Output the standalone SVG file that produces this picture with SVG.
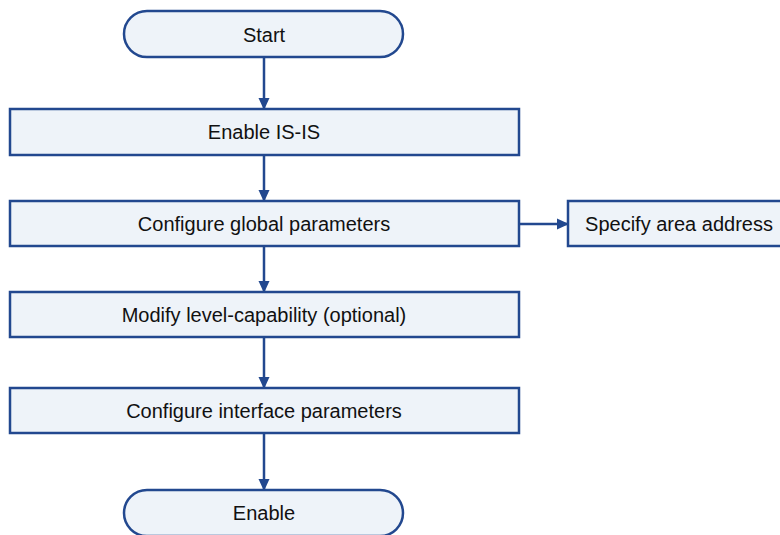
<svg xmlns="http://www.w3.org/2000/svg" width="780" height="535" viewBox="0 0 780 535">
<style>
.box{fill:#EEF3F9;stroke:#22488F;stroke-width:2.5}
.t{font-family:"Liberation Sans",Arial,sans-serif;font-size:20px;fill:#111;text-anchor:middle;dominant-baseline:central}
.c{stroke:#22488F;stroke-width:2.5;fill:none;marker-end:url(#ah)}
</style>
<defs>
<marker id="ah" markerWidth="12" markerHeight="12" refX="10" refY="6" orient="auto" markerUnits="userSpaceOnUse" viewBox="0 0 12 12">
<path d="M0,0.5 L12,6 L0,11.5 Z" fill="#22488F"/>
</marker>
</defs>
<rect width="780" height="535" fill="#fff"/>
<g id="connectors">
<line class="c" x1="264" y1="58" x2="264" y2="108"/>
<line class="c" x1="264" y1="156" x2="264" y2="200"/>
<line class="c" x1="264" y1="247" x2="264" y2="291"/>
<line class="c" x1="264" y1="338" x2="264" y2="387"/>
<line class="c" x1="264" y1="434" x2="264" y2="489"/>
<line class="c" x1="520" y1="224" x2="567" y2="224"/>
</g>
<g id="start"><rect class="box" x="124" y="11" width="279" height="46" rx="23"/><text class="t" x="264" y="35">Start</text></g>
<g id="enable-isis"><rect class="box" x="10" y="109" width="509" height="46"/><text class="t" x="264" y="132">Enable IS-IS</text></g>
<g id="global"><rect class="box" x="10" y="201" width="509" height="45"/><text class="t" x="264" y="224">Configure global parameters</text></g>
<g id="area"><rect class="box" x="568" y="201" width="220" height="45"/><text class="t" x="679" y="224">Specify area address</text></g>
<g id="level"><rect class="box" x="10" y="292" width="509" height="45"/><text class="t" x="264" y="315">Modify level-capability (optional)</text></g>
<g id="iface"><rect class="box" x="10" y="388" width="509" height="45"/><text class="t" x="264" y="411">Configure interface parameters</text></g>
<g id="enable"><rect class="box" x="124" y="490" width="279" height="46" rx="23"/><text class="t" x="264" y="513">Enable</text></g>
</svg>
